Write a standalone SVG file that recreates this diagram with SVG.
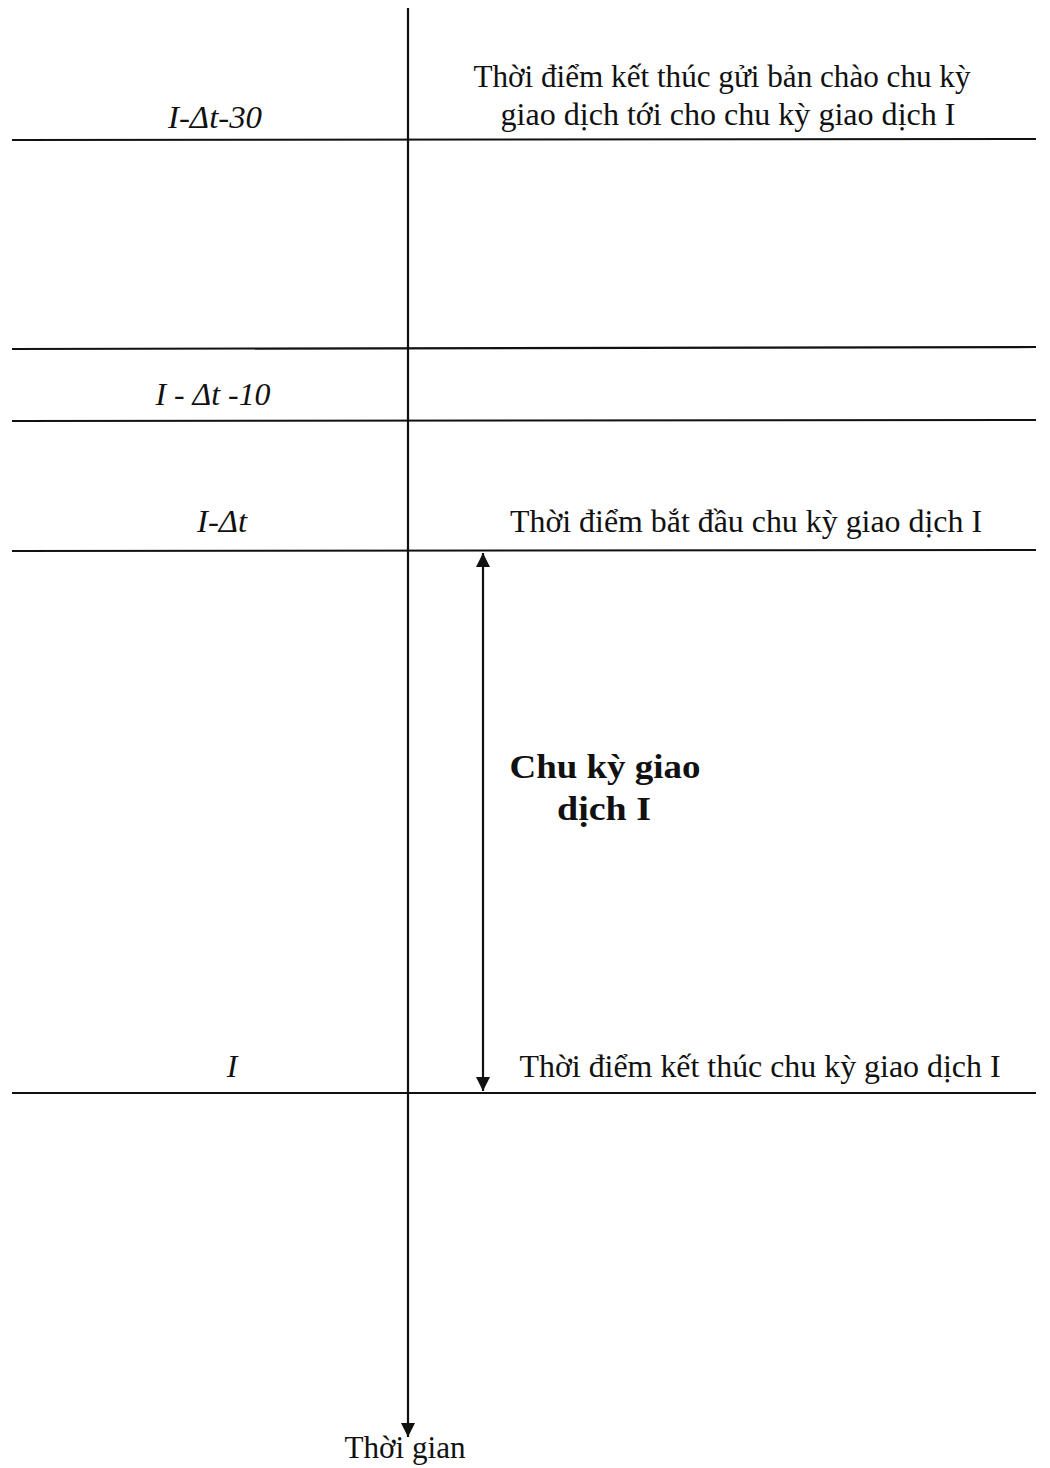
<svg xmlns="http://www.w3.org/2000/svg" width="1050" height="1468" viewBox="0 0 1050 1468">
<style>
text{font-family:"Liberation Serif","Times New Roman",serif;fill:#111;font-size:32px}
.it{font-style:italic;text-anchor:middle}
.r{text-anchor:middle}
.b{font-weight:bold;font-size:34px;text-anchor:middle}
.ln{stroke:#111;stroke-width:2.2;fill:none}
</style>
<defs>
<marker id="ah2" viewBox="0 0 10 10" refX="10" refY="5" markerWidth="19" markerHeight="14" markerUnits="userSpaceOnUse" orient="auto-start-reverse"><path d="M0,0 L10,5 L0,10 z" fill="#111"/></marker>
</defs>
<g id="connectors">
<line class="ln" x1="408" y1="8" x2="408" y2="1437" marker-end="url(#ah2)"/>
<line class="ln" x1="12" y1="140" x2="1036" y2="139"/>
<line class="ln" x1="12" y1="349" x2="1036" y2="347"/>
<line class="ln" x1="12" y1="421" x2="1036" y2="420"/>
<line class="ln" x1="12" y1="551" x2="1036" y2="550"/>
<line class="ln" x1="12" y1="1093" x2="1036" y2="1093"/>
<line class="ln" x1="483" y1="553" x2="483" y2="1091" marker-start="url(#ah2)" marker-end="url(#ah2)"/>
</g>
<g id="row1">
<text class="it" x="215" y="128" textLength="94" lengthAdjust="spacingAndGlyphs">I-Δt-30</text>
<text class="r" x="722" y="87" textLength="497" lengthAdjust="spacingAndGlyphs">Thời điểm kết thúc gửi bản chào chu kỳ</text>
<text class="r" x="728" y="125" textLength="455" lengthAdjust="spacingAndGlyphs">giao dịch tới cho chu kỳ giao dịch I</text>
</g>
<g id="row2">
<text class="it" x="213" y="405" textLength="115" lengthAdjust="spacingAndGlyphs">I - Δt -10</text>
</g>
<g id="row3">
<text class="it" x="222" y="532" textLength="50" lengthAdjust="spacingAndGlyphs">I-Δt</text>
<text class="r" x="746" y="532" textLength="472" lengthAdjust="spacingAndGlyphs">Thời điểm bắt đầu chu kỳ giao dịch I</text>
</g>
<g id="period">
<text class="b" x="605" y="778" textLength="191" lengthAdjust="spacingAndGlyphs">Chu kỳ giao</text>
<text class="b" x="604" y="820" textLength="94" lengthAdjust="spacingAndGlyphs">dịch I</text>
</g>
<g id="row4">
<text class="it" x="232" y="1077">I</text>
<text class="r" x="760" y="1077" textLength="481" lengthAdjust="spacingAndGlyphs">Thời điểm kết thúc chu kỳ giao dịch I</text>
</g>
<g id="axis-label">
<text class="r" x="405" y="1458" textLength="121" lengthAdjust="spacingAndGlyphs">Thời gian</text>
</g>
</svg>
